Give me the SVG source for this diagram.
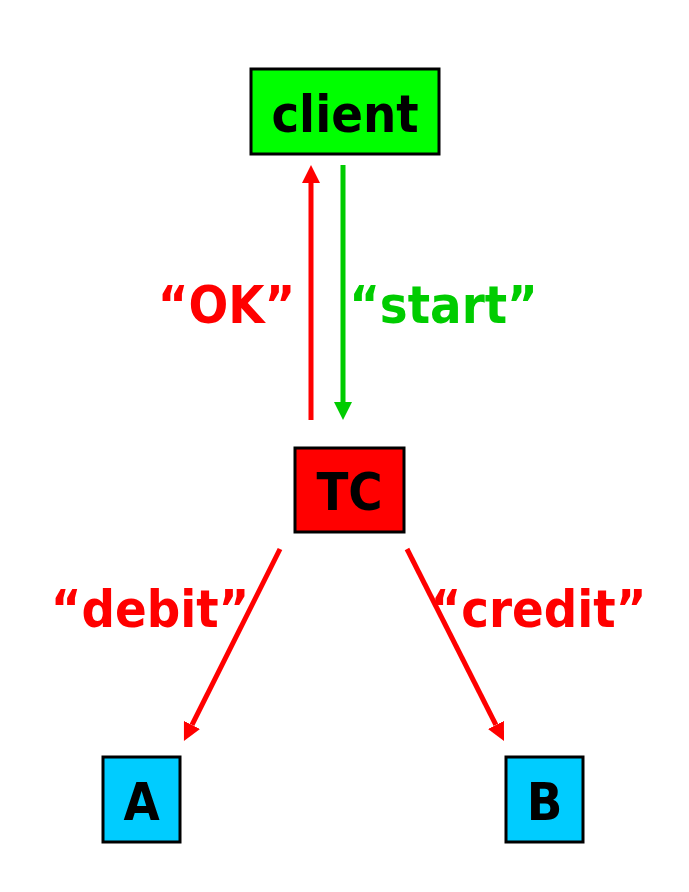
<svg xmlns="http://www.w3.org/2000/svg" width="689" height="892" viewBox="0 0 689 892">
<style>
.box{stroke:#000;stroke-width:3}
.t{font-family:"DejaVu Sans Condensed","DejaVu Sans",sans-serif;font-stretch:condensed;font-weight:bold;font-size:52px;text-anchor:middle}
.red{stroke:#FF0000;stroke-width:5;fill:none}
.grn{stroke:#00CC00;stroke-width:5;fill:none}
</style>
<defs>
<marker id="ahr" viewBox="0 0 18 18" refX="0" refY="9" markerWidth="18" markerHeight="18" markerUnits="userSpaceOnUse" orient="auto"><path d="M0,0 L18,9 L0,18 z" fill="#FF0000"/></marker>
<marker id="ahg" viewBox="0 0 18 18" refX="0" refY="9" markerWidth="18" markerHeight="18" markerUnits="userSpaceOnUse" orient="auto"><path d="M0,0 L18,9 L0,18 z" fill="#00CC00"/></marker>
</defs>
<rect width="689" height="892" fill="#fff"/>
<g id="client"><rect class="box" x="251" y="69" width="188" height="85" fill="#00FF00"/><text class="t" x="345" y="132">client</text></g>
<g id="TC"><rect class="box" x="295" y="448" width="109" height="84" fill="#FF0000"/><text class="t" x="349.5" y="510">TC</text></g>
<g id="A"><rect class="box" x="103" y="757" width="77" height="85" fill="#00CCFF"/><text class="t" x="141.5" y="820">A</text></g>
<g id="B"><rect class="box" x="506" y="757" width="77" height="85" fill="#00CCFF"/><text class="t" x="544.5" y="820">B</text></g>
<g id="connectors">
<line class="red" x1="311" y1="420" x2="311" y2="183" marker-end="url(#ahr)"/>
<line class="grn" x1="343" y1="165" x2="343" y2="402" marker-end="url(#ahg)"/>
<line class="red" x1="280" y1="549" x2="192" y2="724.9" marker-end="url(#ahr)"/>
<line class="red" x1="407" y1="549" x2="495.9" y2="724.9" marker-end="url(#ahr)"/>
<text class="t" x="226.5" y="323" fill="#FF0000">“OK”</text>
<text class="t" x="443.5" y="323" fill="#00CC00">“start”</text>
<text class="t" x="150" y="627" fill="#FF0000">“debit”</text>
<text class="t" x="538.5" y="627" fill="#FF0000">“credit”</text>
</g>
</svg>
